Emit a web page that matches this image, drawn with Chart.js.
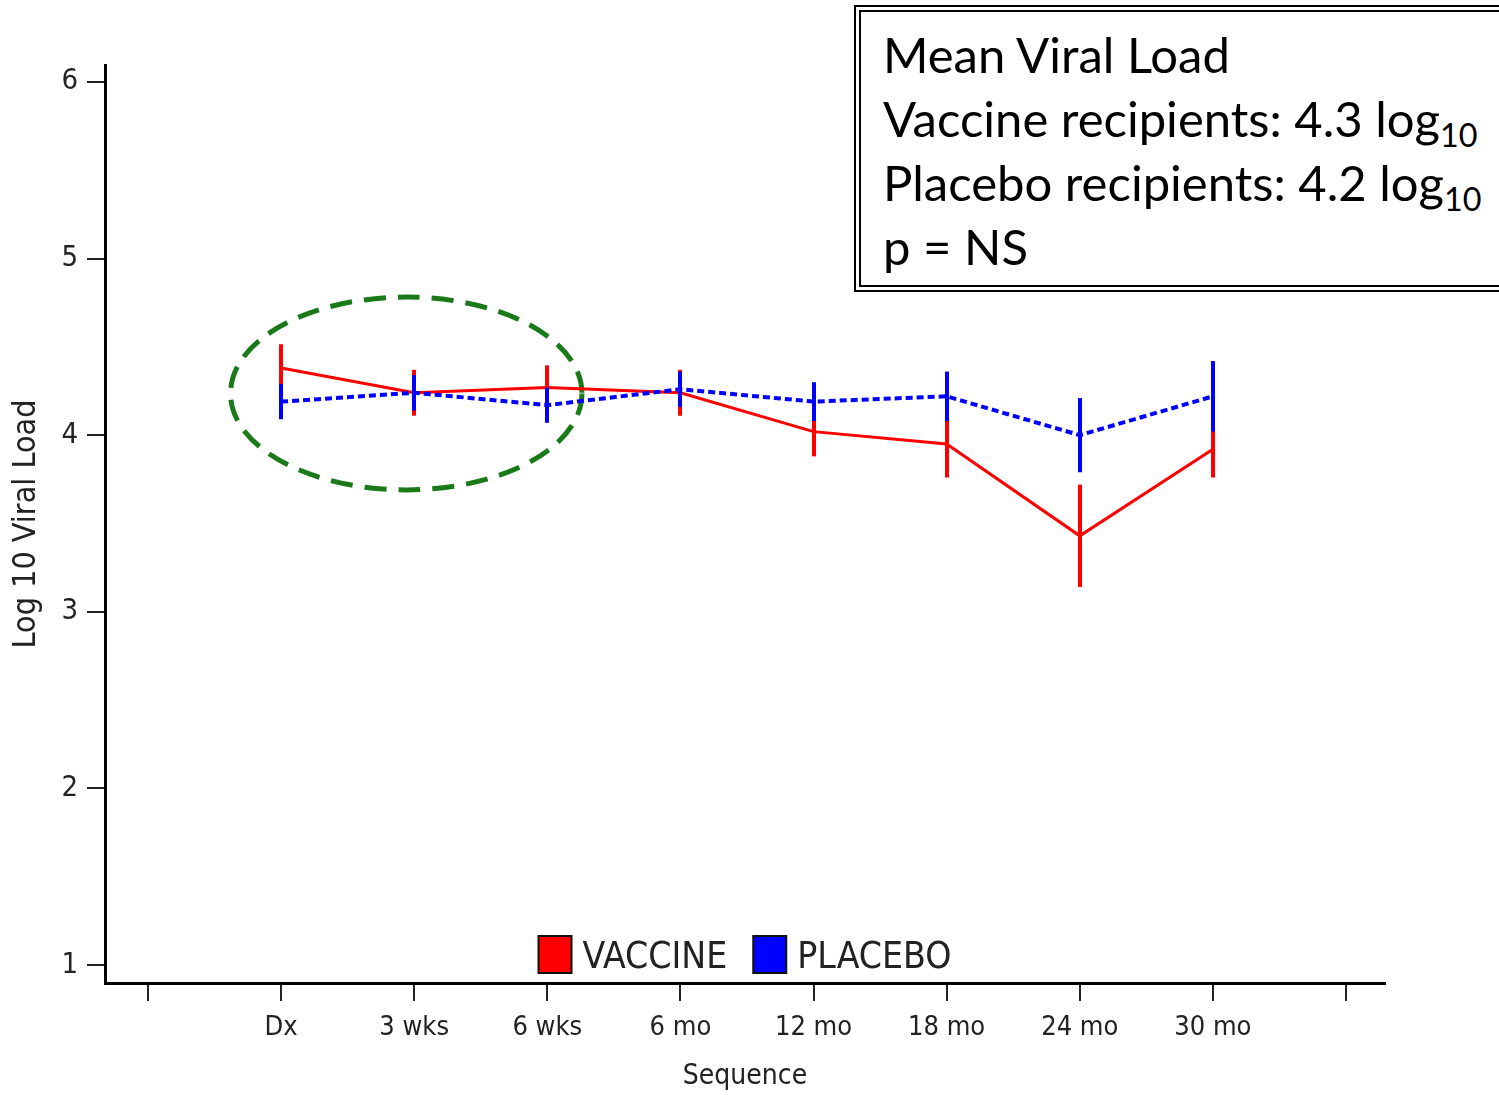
<!DOCTYPE html>
<html>
<head>
<title>Mean Viral Load</title>
<script src="https://cdn.jsdelivr.net/npm/chart.js@4.4.1/dist/chart.umd.min.js"></script>
<style>
  body { margin: 0; background: #fff; }
  #wrap { position: relative; width: 1499px; height: 1095px; overflow: hidden; }
  #note {
    position: absolute; left: 854px; top: 5px; width: 720px; height: 287px;
    box-sizing: border-box; border: 7px double #000; background: #fff;
    padding: 10px 0 0 22px; white-space: nowrap;
    font-family: Lato, "Open Sans", sans-serif; font-size: 49px; line-height: 64px; color: #000;
  }
  #note sub { font-size: 0.66em; line-height: 0; vertical-align: -0.32em; }
</style>
</head>
<body>
<div id="wrap">
  <canvas id="chart" width="1499" height="1095"></canvas>
  <div id="note">
    Mean Viral Load<br>
    Vaccine recipients: 4.3 log<sub>10</sub><br>
    Placebo recipients: 4.2 log<sub>10</sub><br>
    p = NS
  </div>
</div>
<script>
// data
const categories = ['Dx', '3 wks', '6 wks', '6 mo', '12 mo', '18 mo', '24 mo', '30 mo'];
const xLabels = ['', ...categories, ''];
const yTicks = [1, 2, 3, 4, 5, 6];
const vaccineMean = [4.38, 4.24, 4.27, 4.24, 4.02, 3.95, 3.43, 3.92];
const vaccineErr = [0.135, 0.13, 0.125, 0.13, 0.14, 0.19, 0.29, 0.16];
const placeboMean = [4.19, 4.24, 4.17, 4.26, 4.19, 4.22, 4.00, 4.22];
const placeboErr = [0.10, 0.10, 0.10, 0.10, 0.11, 0.14, 0.21, 0.20];

// dashed ellipse around the first three visits (data units)
const highlight = { x: 1.94, y: 4.236, rx: 1.32, ry: 0.546 };

const axisFont = "'Liberation Sans Narrow', 'DejaVu Sans Condensed', 'Liberation Sans', sans-serif";
const RED = '#ff0000', BLUE = '#0000ff';

const toPoints = (arr) => arr.map((v, i) => ({ x: i + 1, y: v }));

const ellipsePlugin = {
  id: 'ellipse',
  beforeDatasetsDraw(chart) {
    const { ctx, scales: { x, y } } = chart;
    const cx = x.getPixelForValue(highlight.x);
    const cy = y.getPixelForValue(highlight.y);
    const rx = Math.abs(x.getPixelForValue(highlight.x + highlight.rx) - cx);
    const ry = Math.abs(y.getPixelForValue(highlight.y + highlight.ry) - cy);
    ctx.save();
    ctx.strokeStyle = '#1a7a1a';
    ctx.lineWidth = 5;
    ctx.setLineDash([22, 12]);
    ctx.beginPath();
    ctx.ellipse(cx, cy, rx, ry, 0, 0, Math.PI * 2);
    ctx.stroke();
    ctx.restore();
  }
};

const errorBarPlugin = {
  id: 'errorBars',
  afterDatasetsDraw(chart) {
    const { ctx, scales: { x, y } } = chart;
    ctx.save();
    ctx.lineWidth = 4;
    chart.data.datasets.forEach((ds) => {
      ctx.strokeStyle = ds.borderColor;
      ds.data.forEach((p, i) => {
        const e = ds.errors[i];
        const px = Math.round(x.getPixelForValue(p.x));
        ctx.beginPath();
        ctx.moveTo(px, y.getPixelForValue(p.y + e));
        ctx.lineTo(px, y.getPixelForValue(p.y - e));
        ctx.stroke();
      });
    });
    ctx.restore();
  }
};

const legendPlugin = {
  id: 'insideLegend',
  afterDraw(chart) {
    const { ctx, chartArea } = chart;
    const boxW = 33, boxH = 37, gap = 11, spacing = 26;
    ctx.save();
    ctx.font = '37px ' + axisFont;
    const items = chart.data.datasets.map((ds) => ({ text: ds.label, color: ds.borderColor, w: ctx.measureText(ds.label).width }));
    const total = items.reduce((s, it) => s + boxW + gap + it.w, 0) + spacing * (items.length - 1);
    let xPos = (chartArea.left + chartArea.right) / 2 - total / 2;
    const boxTop = chartArea.bottom - 10 - boxH;
    items.forEach((it) => {
      ctx.fillStyle = it.color;
      ctx.fillRect(xPos, boxTop, boxW, boxH);
      ctx.strokeStyle = '#111';
      ctx.lineWidth = 2;
      ctx.strokeRect(xPos, boxTop, boxW, boxH);
      ctx.fillStyle = '#222';
      ctx.textBaseline = 'alphabetic';
      ctx.fillText(it.text, xPos + boxW + gap, chartArea.bottom - 15);
      xPos += boxW + gap + it.w + spacing;
    });
    ctx.restore();
  }
};

new Chart(document.getElementById('chart'), {
  type: 'line',
  data: {
    datasets: [
      {
        label: 'VACCINE',
        data: toPoints(vaccineMean),
        errors: vaccineErr,
        borderColor: RED,
        backgroundColor: RED,
        borderWidth: 3,
        pointRadius: 0,
        tension: 0,
        order: 1
      },
      {
        label: 'PLACEBO',
        data: toPoints(placeboMean),
        errors: placeboErr,
        borderColor: BLUE,
        backgroundColor: BLUE,
        borderWidth: 4,
        borderDash: [7, 4],
        pointRadius: 0,
        tension: 0,
        order: 0
      }
    ]
  },
  options: {
    responsive: false,
    animation: false,
    devicePixelRatio: 1,
    layout: { padding: { top: 65, right: 114, left: 0, bottom: 0 } },
    plugins: {
      legend: { display: false },
      tooltip: { enabled: false }
    },
    scales: {
      x: {
        type: 'linear',
        min: -0.323,
        max: 9.293,
        afterFit: (s) => { s.height = 112; },
        afterBuildTicks: (s) => { s.ticks = xLabels.map((_, i) => ({ value: i })); },
        border: { color: '#000', width: 3 },
        grid: { drawOnChartArea: false, tickLength: 18, color: '#222', lineWidth: 2 },
        ticks: {
          autoSkip: false, maxRotation: 0, padding: 11,
          color: '#222', font: { family: axisFont, size: 27 },
          callback: (v) => xLabels[v]
        },
        title: {
          display: true, text: 'Sequence', color: '#222',
          font: { family: axisFont, size: 28 }, padding: { top: 0, bottom: 1 }
        }
      },
      y: {
        min: 0.898,
        max: 6.096,
        afterFit: (s) => { s.width = 105; },
        afterBuildTicks: (s) => { s.ticks = yTicks.map((v) => ({ value: v })); },
        border: { color: '#000', width: 3 },
        grid: { drawOnChartArea: false, tickLength: 18, color: '#222', lineWidth: 2 },
        ticks: {
          padding: 9, color: '#222', font: { family: axisFont, size: 29 },
          callback: (v) => String(v)
        },
        title: {
          display: true, text: 'Log 10 Viral Load', color: '#222',
          font: { family: axisFont, size: 32 }, padding: { top: 7, bottom: 0 }
        }
      }
    }
  },
  plugins: [ellipsePlugin, errorBarPlugin, legendPlugin]
});
</script>
</body>
</html>
